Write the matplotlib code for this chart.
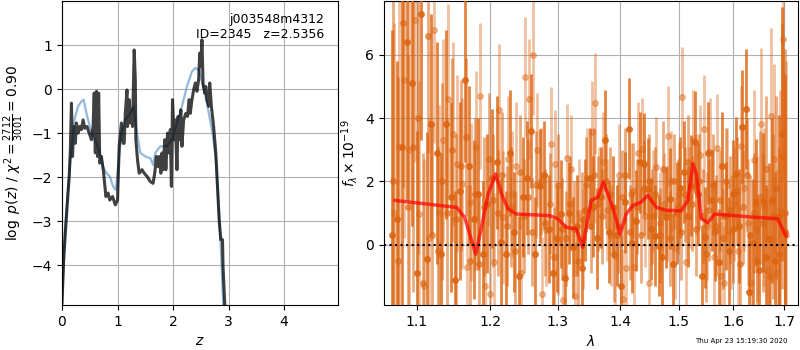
import numpy as np
import matplotlib
matplotlib.use("Agg")
import matplotlib.pyplot as plt
from matplotlib.ticker import FixedLocator, NullLocator, FormatStrFormatter

# --- p(z) panel: smooth template fit (blue) and full fit (dark) ---
z_smooth = [0.0, 0.05, 0.11, 0.17, 0.23, 0.29, 0.35, 0.39, 0.44, 0.50,
            0.56, 0.62, 0.68, 0.74, 0.80, 0.86, 0.92, 0.97, 1.01, 1.07,
            1.14, 1.23, 1.29, 1.35, 1.41, 1.50, 1.59, 1.64, 1.68, 1.77,
            1.89, 1.98, 2.07, 2.16, 2.25, 2.34, 2.40, 2.46, 2.52, 2.61,
            2.71, 2.77, 2.83, 2.87, 2.90, 2.95]
logp_smooth = [-4.86, -3.27, -2.21, -1.38, -0.66, -0.39, -0.28, -0.24, -0.55, -0.85,
               -1.08, -1.23, -1.45, -1.76, -1.91, -1.98, -2.21, -2.29, -1.76, -1.00,
               -0.70, -0.55, -0.39, -1.00, -1.45, -1.53, -1.57, -1.72, -1.45, -1.30,
               -1.30, -1.15, -0.77, -0.39, 0.06, 0.40, 0.48, 0.44, 0.17, -0.32,
               -1.00, -1.61, -2.89, -3.88, -4.86, -6.0]

z_full = [0.0, 0.03, 0.06, 0.10, 0.13, 0.15, 0.17, 0.19, 0.21, 0.24,
          0.26, 0.29, 0.32, 0.35, 0.38, 0.41, 0.45, 0.49, 0.53, 0.56,
          0.58, 0.60, 0.62, 0.64, 0.66, 0.68, 0.71, 0.75, 0.79, 0.83,
          0.86, 0.91, 0.96, 1.00, 1.03, 1.07, 1.10, 1.12, 1.14, 1.17,
          1.18, 1.21, 1.23, 1.26, 1.27, 1.30, 1.32, 1.33, 1.36, 1.39,
          1.44, 1.48, 1.53, 1.59, 1.64, 1.67, 1.70, 1.73, 1.75, 1.78,
          1.80, 1.82, 1.85, 1.87, 1.90, 1.93, 1.95, 1.97, 1.99, 2.02,
          2.04, 2.07, 2.09, 2.11, 2.14, 2.16, 2.19, 2.23, 2.26, 2.29,
          2.31, 2.34, 2.37, 2.40, 2.43, 2.46, 2.48, 2.50, 2.52, 2.54,
          2.57, 2.59, 2.61, 2.64, 2.66, 2.69, 2.73, 2.77, 2.80, 2.83,
          2.86, 2.89, 2.90, 2.93, 2.96]
logp_full = [-4.86, -3.88, -3.27, -2.52, -1.98, -1.38, -0.32, -1.53, -0.85, -1.23,
             -0.77, -1.00, -0.85, -0.92, -0.70, -0.89, -0.85, -1.00, -1.15, -0.85,
             -0.09, -1.45, -0.05, -1.53, -0.09, -1.68, -1.53, -1.91, -2.44, -2.36,
             -2.52, -2.44, -2.63, -2.52, -1.30, -0.77, -1.23, -1.23, -0.55, -0.02,
             -0.85, -0.24, -0.77, -0.47, -0.85, 0.89, 0.21, -1.15, -1.61, -1.91,
             -1.83, -1.91, -1.98, -2.10, -2.14, -1.91, -1.53, -1.76, -1.53, -1.91,
             -1.45, -1.83, -1.15, -1.83, -1.00, -1.45, -0.92, -2.21, -0.24, -1.15,
             -0.70, -1.83, -0.62, -1.15, -0.47, -1.30, -0.70, -0.55, -0.62, -0.24,
             -0.55, -0.24, -0.02, 0.14, -0.05, 0.21, 0.82, 0.52, 1.12, 0.14,
             -0.09, 0.06, -0.24, -0.39, 0.14, -0.39, -0.85, -1.45, -2.21, -2.97,
             -3.42, -3.42, -4.03, -4.86, -6.0]

# --- spectrum panel: three beams ---
wave_a = [1.068, 1.074, 1.081, 1.087, 1.094, 1.100, 1.106, 1.113, 1.119, 1.126,
          1.132, 1.138, 1.145, 1.151, 1.158, 1.164, 1.170, 1.177, 1.183, 1.190,
          1.196, 1.202, 1.209, 1.215, 1.222, 1.228, 1.234, 1.241, 1.247, 1.254,
          1.260, 1.266, 1.273, 1.279, 1.286, 1.292, 1.298, 1.305, 1.311, 1.318,
          1.324, 1.330, 1.337, 1.343, 1.350, 1.356, 1.362, 1.369, 1.375, 1.382,
          1.388, 1.394, 1.401, 1.407, 1.414, 1.420, 1.426, 1.433, 1.439, 1.446,
          1.452, 1.458, 1.465, 1.471, 1.478, 1.484, 1.490, 1.497, 1.503, 1.510,
          1.516, 1.522, 1.529, 1.535, 1.542, 1.548, 1.554, 1.561, 1.567, 1.574,
          1.580, 1.586, 1.593, 1.599, 1.606, 1.612, 1.618, 1.625, 1.631, 1.638,
          1.644, 1.650, 1.657, 1.663, 1.670, 1.676, 1.682, 1.689, 1.695, 1.701]
flux_a = [0.3, 0.8, 3.1, 6.4, 5.1, -0.9, 7.3, -0.45, 3.8, 2.9,
          -0.3, 3.8, 1.5, -1.1, 1.7, 5.2, 2.5, 0.8, 1.6, -0.3,
          1.3, 2.1, 2.6, 0.1, -0.3, 2.9, 0.4, -1.0, 1.5, 2.1,
          3.6, -0.3, 1.85, 2.2, 0.5, -0.9, 0.2, 0.97, -1.06, 1.0,
          -0.08, 0.6, -0.72, 1.1, 2.1, 1.2, 0.2, 1.5, 3.3, 0.4,
          1.2, 0.3, -1.3, 1.34, 3.67, 0.07, 0.76, 2.6, 2.56, 1.77,
          0.5, 0.29, -0.03, -0.4, 0.87, 1.45, -0.6, 1.0, 1.8, 2.3,
          0.9, 1.87, 3.25, 1.6, -0.98, 0.23, 2.9, 1.4, 0.44, -0.56,
          2.5, 0.9, -0.2, 1.6, 2.24, 0.6, 3.72, 4.3, -1.5, 0.07,
          1.34, -0.8, 1.34, -0.4, 0.18, 1.4, -0.5, 0.9, 3.5, 0.4]
err_a = [6.5, 5.0, 5.5, 5.0, 4.5, 4.5, 4.0, 4.0, 3.5, 3.5,
         3.2, 3.0, 3.0, 2.8, 2.8, 2.6, 2.5, 2.5, 2.4, 2.3,
         2.2, 2.2, 2.1, 2.0, 2.0, 2.0, 1.9, 1.9, 1.9, 1.8,
         1.8, 1.8, 1.8, 1.7, 1.7, 1.7, 1.7, 1.7, 1.7, 1.6,
         1.6, 1.6, 1.6, 1.6, 1.6, 1.6, 1.6, 1.6, 1.6, 1.6,
         1.6, 1.6, 1.6, 1.6, 1.6, 1.6, 1.6, 1.6, 1.6, 1.6,
         1.6, 1.6, 1.6, 1.6, 1.6, 1.6, 1.6, 1.6, 1.6, 1.6,
         1.6, 1.6, 1.6, 1.6, 1.6, 1.6, 1.6, 1.6, 1.6, 1.7,
         1.7, 1.7, 1.7, 1.7, 1.8, 1.8, 1.8, 1.9, 1.9, 2.0,
         2.0, 2.1, 2.2, 2.3, 2.4, 2.6, 2.8, 3.2, 4.0, 5.0]

wave_b = [1.071, 1.077, 1.084, 1.090, 1.097, 1.103, 1.109, 1.116, 1.122, 1.129,
          1.135, 1.141, 1.148, 1.154, 1.161, 1.167, 1.173, 1.180, 1.186, 1.193,
          1.199, 1.205, 1.212, 1.218, 1.225, 1.231, 1.237, 1.244, 1.250, 1.257,
          1.263, 1.269, 1.276, 1.282, 1.289, 1.295, 1.301, 1.308, 1.314, 1.321,
          1.327, 1.333, 1.340, 1.346, 1.353, 1.359, 1.365, 1.372, 1.378, 1.385,
          1.391, 1.397, 1.404, 1.410, 1.417, 1.423, 1.429, 1.436, 1.442, 1.449,
          1.455, 1.461, 1.468, 1.474, 1.481, 1.487, 1.493, 1.500, 1.506, 1.513,
          1.519, 1.525, 1.532, 1.538, 1.545, 1.551, 1.557, 1.564, 1.570, 1.577,
          1.583, 1.589, 1.596, 1.602, 1.609, 1.615, 1.621, 1.628, 1.634, 1.641,
          1.647, 1.653, 1.660, 1.666, 1.673, 1.679, 1.685, 1.692, 1.698, 1.703]
flux_b = [1.0, 3.1, 5.2, 3.0, 7.1, 0.97, -1.3, 0.2, 6.8, 1.0,
          3.3, 4.6, 3.5, 2.56, 1.93, -0.7, 1.34, 3.1, 4.7, -1.3,
          -1.57, -0.56, 4.25, 0.87, 2.7, 1.6, 2.5, -0.9, 5.3, 4.6,
          6.0, 3.0, -1.57, 0.48, 3.17, 2.56, 0.1, -1.75, 2.75, 2.4,
          -1.62, 1.0, 0.2, 2.1, 3.57, 4.47, 1.5, 2.6, 1.1, 0.3,
          -0.35, 2.2, -1.72, -0.72, 1.6, -0.7, 2.9, 3.04, 0.9, -1.2,
          1.4, 2.45, 0.7, 1.3, 3.43, 2.0, -0.1, 1.6, 4.66, -0.56,
          1.5, 3.3, 1.9, 2.83, 3.67, 0.6, 2.93, -0.4, 3.07, -0.98,
          -1.2, 1.9, 0.4, 1.3, -0.2, 3.11, 1.8, 0.7, -1.2, 2.69,
          0.5, 3.83, 1.2, -0.8, 4.06, 2.7, -0.9, 1.1, 6.5, 0.3]
err_b = [6.0, 5.5, 5.0, 5.0, 4.5, 4.2, 4.0, 3.8, 3.6, 3.4,
         3.2, 3.0, 2.9, 2.8, 2.7, 2.6, 2.5, 2.4, 2.3, 2.3,
         2.2, 2.2, 2.1, 2.1, 2.0, 2.0, 2.0, 1.9, 1.9, 1.9,
         1.9, 1.8, 1.8, 1.8, 1.8, 1.7, 1.7, 1.7, 1.7, 1.7,
         1.7, 1.7, 1.6, 1.6, 1.6, 1.6, 1.6, 1.6, 1.6, 1.6,
         1.6, 1.6, 1.6, 1.6, 1.6, 1.6, 1.6, 1.6, 1.6, 1.6,
         1.6, 1.6, 1.6, 1.6, 1.6, 1.6, 1.6, 1.6, 1.6, 1.6,
         1.6, 1.6, 1.6, 1.6, 1.7, 1.7, 1.7, 1.7, 1.7, 1.7,
         1.8, 1.8, 1.8, 1.8, 1.9, 1.9, 2.0, 2.0, 2.1, 2.2,
         2.3, 2.4, 2.5, 2.6, 2.8, 3.0, 3.3, 3.8, 4.5, 5.5]

wave_c = [1.0695, 1.0755, 1.0825, 1.0885, 1.0955, 1.1015, 1.1075, 1.1145, 1.1205, 1.1275,
          1.1335, 1.1395, 1.1465, 1.1525, 1.1595, 1.1655, 1.1715, 1.1785, 1.1845, 1.1915,
          1.1975, 1.2035, 1.2105, 1.2165, 1.2235, 1.2295, 1.2355, 1.2425, 1.2485, 1.2555,
          1.2615, 1.2675, 1.2745, 1.2805, 1.2875, 1.2935, 1.2995, 1.3065, 1.3125, 1.3195,
          1.3255, 1.3315, 1.3385, 1.3445, 1.3515, 1.3575, 1.3635, 1.3705, 1.3765, 1.3835,
          1.3895, 1.3955, 1.4025, 1.4085, 1.4155, 1.4215, 1.4275, 1.4345, 1.4405, 1.4475,
          1.4535, 1.4595, 1.4665, 1.4725, 1.4795, 1.4855, 1.4915, 1.4985, 1.5045, 1.5115,
          1.5175, 1.5235, 1.5305, 1.5365, 1.5435, 1.5495, 1.5555, 1.5625, 1.5685, 1.5755,
          1.5815, 1.5875, 1.5945, 1.6005, 1.6075, 1.6135, 1.6195, 1.6265, 1.6325, 1.6395,
          1.6455, 1.6515, 1.6585, 1.6645, 1.6715, 1.6775, 1.6835, 1.6905, 1.6965, 1.7025]
flux_c = [2.0, -0.5, 7.0, 1.2, 3.1, 4.0, -1.2, 6.6, 0.3, -0.2,
          2.0, 1.0, 3.0, 0.8, 2.5, 3.4, -0.5, 1.6, -0.6, 1.2,
          2.7, 1.4, 1.0, 2.2, 0.6, 1.2, -0.2, 2.3, 0.9, 1.5,
          0.4, 1.9, 2.0, 0.7, 1.3, -0.4, 1.9, 0.5, 0.2, 1.3,
          0.5, -0.5, 0.8, 1.9, 0.6, 2.2, 1.3, 0.9, 2.0, 1.6,
          -0.3, 0.6, 1.5, 2.2, 0.4, 1.7, 1.2, 0.3, 1.8, 2.0,
          0.9, 1.6, 0.3, 2.4, 1.0, 0.2, 2.0, 1.2, 0.4, 1.6,
          2.6, 1.3, 0.5, 2.0, 0.9, -0.3, 1.1, 1.9, 0.6, 1.4,
          0.2, 2.0, 1.1, 0.5, 1.7, -0.6, 1.2, 2.2, 0.3, 1.0,
          -0.5, 1.5, 0.7, 2.4, -1.0, 0.9, 1.8, -0.3, 2.8, 1.0]
err_c = [6.2, 5.8, 5.2, 4.8, 4.6, 4.3, 4.1, 3.7, 3.5, 3.3,
         3.1, 3.0, 2.9, 2.7, 2.7, 2.5, 2.4, 2.4, 2.3, 2.2,
         2.1, 2.1, 2.0, 2.0, 1.9, 1.9, 1.9, 1.8, 1.8, 1.8,
         1.7, 1.7, 1.7, 1.7, 1.6, 1.6, 1.6, 1.6, 1.5, 1.5,
         1.5, 1.5, 1.5, 1.5, 1.5, 1.5, 1.5, 1.5, 1.5, 1.5,
         1.5, 1.5, 1.5, 1.5, 1.5, 1.5, 1.5, 1.5, 1.5, 1.5,
         1.5, 1.5, 1.5, 1.5, 1.5, 1.5, 1.5, 1.5, 1.5, 1.5,
         1.5, 1.5, 1.5, 1.5, 1.5, 1.5, 1.6, 1.6, 1.6, 1.6,
         1.6, 1.7, 1.7, 1.7, 1.7, 1.8, 1.8, 1.8, 1.9, 1.9,
         2.0, 2.1, 2.2, 2.3, 2.4, 2.6, 2.9, 3.4, 4.2, 5.2]

wave_model = [1.0717, 1.153, 1.164, 1.171, 1.1795, 1.1875, 1.197, 1.2077, 1.216, 1.2255,
              1.2377, 1.2875, 1.300, 1.313, 1.3287, 1.339, 1.3445, 1.3525, 1.363, 1.372,
              1.3875, 1.3997, 1.4097, 1.4208, 1.435, 1.4463, 1.4608, 1.478, 1.5047, 1.5166,
              1.5256, 1.5318, 1.541, 1.553, 1.5655, 1.6316, 1.6867, 1.7035]
flux_model = [1.40, 1.18, 0.87, 0.34, -0.30, 0.55, 1.61, 2.24, 1.61, 1.13,
              0.97, 0.92, 0.82, 0.55, 0.50, -0.08, 0.55, 1.40, 1.50, 1.98,
              1.18, 0.34, 0.97, 1.24, 1.35, 1.56, 1.18, 1.09, 1.07, 1.40,
              2.56, 2.24, 0.82, 0.70, 0.97, 0.88, 0.82, 0.28]

wave_ticks = [1.1, 1.2, 1.3, 1.4, 1.5, 1.6, 1.7]
orange = '#dc6410'

fig = plt.figure(figsize=(8, 3.5), dpi=100)
ax1 = fig.add_axes([0.0775, 0.129, 0.345, 0.868])
ax2 = fig.add_axes([0.48, 0.129, 0.5175, 0.868])

# p(z)
ax1.plot(z_smooth, logp_smooth, color='#4a8ac4', alpha=0.6, lw=1.6)
ax1.plot(z_full, logp_full, color='black', alpha=0.75, lw=2.2)
ax1.set_xlim(0, 4.97)
ax1.set_ylim(-4.9, 2.0)
ax1.set_xticks([0, 1, 2, 3, 4])
ax1.set_yticks([-4, -3, -2, -1, 0, 1])
ax1.grid(True)
ax1.set_xlabel(r'$z$')
ax1.set_ylabel(r'$\log\ p(z)$ / $\chi^2=\frac{2712}{3001}=0.90$')
ax1.text(0.95, 0.96, 'j003548m4312\nID=2345   z=2.5356', transform=ax1.transAxes,
         ha='right', va='top', fontsize=9)

# spectrum
ax2.errorbar(wave_b, flux_b, yerr=err_b, fmt='o', color=orange, alpha=0.4,
             ms=4, elinewidth=2.0, capsize=0, zorder=2)
ax2.errorbar(wave_c, flux_c, yerr=err_c, fmt='o', color=orange, alpha=0.55,
             ms=4, elinewidth=2.0, capsize=0, zorder=2)
ax2.errorbar(wave_a, flux_a, yerr=err_a, fmt='o', color=orange, alpha=0.8,
             ms=4, elinewidth=2.0, capsize=0, zorder=3)
ax2.plot(wave_model, flux_model, color='red', alpha=0.7, lw=2.5, zorder=5)
ax2.axhline(0, color='black', ls=':', lw=1.5, zorder=6)
ax2.set_xscale('log')
ax2.xaxis.set_major_locator(FixedLocator(wave_ticks))
ax2.xaxis.set_major_formatter(FormatStrFormatter('%.1f'))
ax2.xaxis.set_minor_locator(NullLocator())
ax2.set_xlim(1.058, 1.728)
ax2.set_ylim(-1.9, 7.7)
ax2.set_yticks([0, 2, 4, 6])
ax2.grid(True)
ax2.set_axisbelow(True)
ax2.set_xlabel(r'$\lambda$')
ax2.set_ylabel(r'$f_\lambda\times10^{-19}$')

fig.text(0.984, 0.018, 'Thu Apr 23 15:19:30 2020', ha='right', va='bottom', fontsize=5)

fig.savefig('out.png', dpi=100)
